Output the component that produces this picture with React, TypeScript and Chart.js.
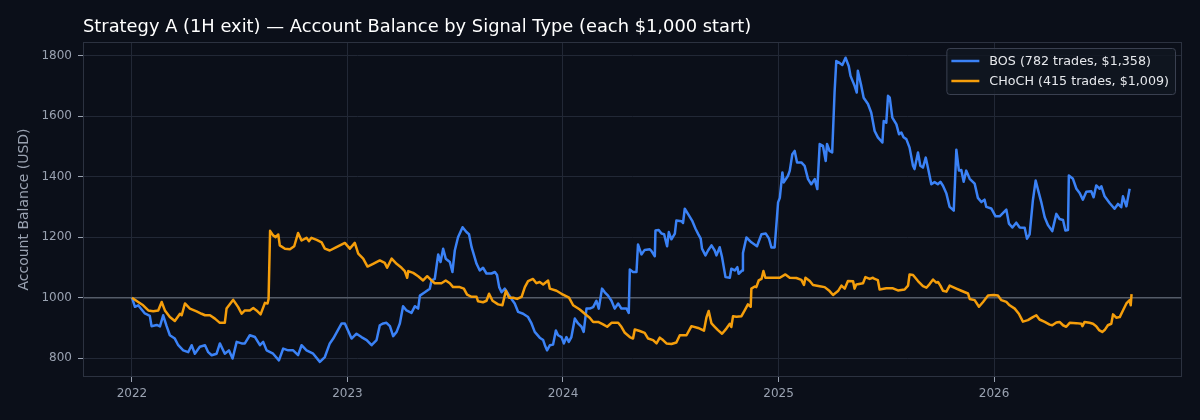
import { useEffect, useRef } from 'react'
import { Chart, registerables } from 'chart.js'

Chart.register(...registerables)

// Values (x in fractional years, y in USD)
const bosYears = [
  2022.0, 2022.014, 2022.029, 2022.06, 2022.083, 2022.091, 2022.115, 2022.13, 2022.145, 2022.161,
  2022.176, 2022.199, 2022.215, 2022.238, 2022.261, 2022.277, 2022.292, 2022.315, 2022.339, 2022.354,
  2022.37, 2022.393, 2022.408, 2022.431, 2022.45, 2022.467, 2022.486, 2022.509, 2022.524, 2022.547,
  2022.571, 2022.594, 2022.609, 2022.625, 2022.655, 2022.682, 2022.702, 2022.725, 2022.748, 2022.771,
  2022.787, 2022.81, 2022.841, 2022.872, 2022.895, 2022.918, 2022.934, 2022.973, 2022.988, 2023.019,
  2023.042, 2023.065, 2023.089, 2023.112, 2023.135, 2023.15, 2023.166, 2023.181, 2023.197, 2023.212,
  2023.228, 2023.243, 2023.258, 2023.274, 2023.297, 2023.313, 2023.328, 2023.336, 2023.359, 2023.382,
  2023.39, 2023.405, 2023.421, 2023.432, 2023.444, 2023.456, 2023.475, 2023.487, 2023.498, 2023.513,
  2023.534, 2023.552, 2023.564, 2023.576, 2023.599, 2023.614, 2023.629, 2023.645, 2023.668, 2023.684,
  2023.694, 2023.704, 2023.715, 2023.73, 2023.745, 2023.761, 2023.776, 2023.792, 2023.815, 2023.838,
  2023.854, 2023.869, 2023.892, 2023.908, 2023.916, 2023.926, 2023.939, 2023.954, 2023.967, 2023.977,
  2023.993, 2024.004, 2024.016, 2024.027, 2024.039, 2024.055, 2024.07, 2024.086, 2024.096, 2024.109,
  2024.124, 2024.14, 2024.155, 2024.166, 2024.181, 2024.194, 2024.209, 2024.225, 2024.24, 2024.256,
  2024.271, 2024.295, 2024.305, 2024.31, 2024.325, 2024.341, 2024.348, 2024.364, 2024.379, 2024.403,
  2024.41, 2024.426, 2024.429, 2024.444, 2024.457, 2024.469, 2024.483, 2024.491, 2024.503, 2024.519,
  2024.526, 2024.55, 2024.557, 2024.565, 2024.58, 2024.599, 2024.615, 2024.627, 2024.639, 2024.645,
  2024.661, 2024.673, 2024.689, 2024.704, 2024.712, 2024.727, 2024.738, 2024.754, 2024.774, 2024.781,
  2024.797, 2024.809, 2024.815, 2024.831, 2024.835, 2024.851, 2024.874, 2024.9, 2024.921, 2024.941,
  2024.956, 2024.967, 2024.982, 2024.998, 2025.006, 2025.018, 2025.024, 2025.044, 2025.052, 2025.064,
  2025.075, 2025.086, 2025.106, 2025.121, 2025.137, 2025.152, 2025.168, 2025.18, 2025.191, 2025.206,
  2025.219, 2025.225, 2025.237, 2025.249, 2025.26, 2025.268, 2025.283, 2025.296, 2025.311, 2025.326,
  2025.334, 2025.353, 2025.363, 2025.368, 2025.384, 2025.395, 2025.415, 2025.43, 2025.446, 2025.461,
  2025.482, 2025.488, 2025.5, 2025.508, 2025.516, 2025.528, 2025.547, 2025.559, 2025.57, 2025.58,
  2025.593, 2025.608, 2025.624, 2025.631, 2025.647, 2025.658, 2025.67, 2025.683, 2025.693, 2025.709,
  2025.724, 2025.739, 2025.751, 2025.763, 2025.779, 2025.794, 2025.813, 2025.825, 2025.837, 2025.848,
  2025.859, 2025.871, 2025.887, 2025.91, 2025.925, 2025.941, 2025.956, 2025.964, 2025.987, 2026.007,
  2026.026, 2026.057, 2026.069, 2026.085, 2026.103, 2026.119, 2026.142, 2026.153, 2026.165, 2026.18,
  2026.193, 2026.205, 2026.219, 2026.235, 2026.25, 2026.27, 2026.289, 2026.304, 2026.32, 2026.331,
  2026.343, 2026.347, 2026.366, 2026.382, 2026.397, 2026.412, 2026.428, 2026.451, 2026.462, 2026.474,
  2026.49, 2026.498, 2026.513, 2026.536, 2026.559, 2026.575, 2026.59, 2026.598, 2026.614, 2026.629,
]
const bosBalance = [
  1000, 970, 975, 948, 940, 906, 910, 905, 942, 906,
  876, 865, 843, 826, 820, 843, 815, 838, 843, 820,
  810, 815, 849, 815, 826, 799, 854, 849, 849, 876,
  870, 843, 854, 826, 815, 793, 832, 826, 826, 810,
  843, 826, 815, 788, 804, 849, 865, 915, 915, 865,
  881, 870, 860, 843, 860, 909, 915, 917, 906, 873,
  887, 915, 972, 958, 950, 972, 964, 1007, 1018, 1030,
  1057, 1062, 1143, 1118, 1162, 1129, 1118, 1085, 1156, 1200,
  1233, 1217, 1210, 1167, 1112, 1090, 1099, 1080, 1080, 1085,
  1075, 1035, 1018, 1030, 1013, 996, 981, 953, 947, 936,
  915, 887, 868, 860, 843, 826, 843, 845, 892, 876,
  870, 849, 870, 854, 870, 931, 915, 904, 887, 964,
  964, 969, 990, 964, 1030, 1018, 1007, 990, 964, 981,
  964, 964, 950, 1093, 1085, 1085, 1176, 1143, 1158, 1160,
  1155, 1137, 1222, 1224, 1212, 1210, 1170, 1217, 1193, 1212,
  1255, 1253, 1247, 1294, 1277, 1255, 1228, 1211, 1195, 1162,
  1140, 1156, 1173, 1156, 1140, 1167, 1134, 1068, 1066, 1096,
  1090, 1101, 1079, 1090, 1148, 1199, 1183, 1170, 1210, 1212,
  1195, 1166, 1166, 1315, 1330, 1414, 1381, 1403, 1419, 1474,
  1485, 1447, 1447, 1436, 1392, 1375, 1392, 1359, 1508, 1502,
  1452, 1508, 1485, 1480, 1678, 1782, 1776, 1769, 1793, 1765,
  1733, 1700, 1678, 1750, 1700, 1661, 1640, 1612, 1551, 1530,
  1513, 1584, 1578, 1667, 1661, 1595, 1573, 1540, 1546, 1530,
  1524, 1496, 1436, 1425, 1480, 1436, 1430, 1463, 1430, 1375,
  1382, 1375, 1383, 1370, 1344, 1300, 1288, 1489, 1420, 1422,
  1383, 1420, 1393, 1377, 1330, 1316, 1324, 1300, 1295, 1269,
  1269, 1291, 1245, 1232, 1248, 1232, 1231, 1195, 1209, 1321,
  1387, 1354, 1316, 1266, 1240, 1220, 1277, 1260, 1257, 1222,
  1224, 1404, 1393, 1360, 1346, 1324, 1350, 1352, 1332, 1371,
  1360, 1368, 1335, 1313, 1294, 1310, 1299, 1335, 1302, 1360,
]

const chochYears = [
  2022.0, 2022.029, 2022.052, 2022.076, 2022.099, 2022.122, 2022.138, 2022.153, 2022.176, 2022.199,
  2022.223, 2022.231, 2022.246, 2022.269, 2022.3, 2022.323, 2022.339, 2022.362, 2022.385, 2022.408,
  2022.431, 2022.439, 2022.47, 2022.493, 2022.509, 2022.524, 2022.547, 2022.563, 2022.578, 2022.597,
  2022.617, 2022.629, 2022.634, 2022.641, 2022.655, 2022.667, 2022.679, 2022.686, 2022.71, 2022.733,
  2022.753, 2022.771, 2022.787, 2022.81, 2022.821, 2022.833, 2022.857, 2022.88, 2022.895, 2022.918,
  2022.949, 2022.988, 2023.011, 2023.034, 2023.05, 2023.073, 2023.093, 2023.119, 2023.15, 2023.173,
  2023.184, 2023.205, 2023.228, 2023.251, 2023.266, 2023.277, 2023.282, 2023.305, 2023.328, 2023.351,
  2023.37, 2023.39, 2023.405, 2023.436, 2023.456, 2023.475, 2023.49, 2023.521, 2023.54, 2023.555,
  2023.576, 2023.599, 2023.606, 2023.629, 2023.645, 2023.657, 2023.673, 2023.699, 2023.719, 2023.735,
  2023.75, 2023.769, 2023.787, 2023.808, 2023.823, 2023.838, 2023.861, 2023.877, 2023.892, 2023.908,
  2023.931, 2023.939, 2023.97, 2023.993, 2024.028, 2024.047, 2024.078, 2024.101, 2024.124, 2024.14,
  2024.163, 2024.186, 2024.205, 2024.225, 2024.256, 2024.271, 2024.287, 2024.31, 2024.325, 2024.333,
  2024.356, 2024.379, 2024.395, 2024.418, 2024.434, 2024.449, 2024.464, 2024.48, 2024.503, 2024.526,
  2024.542, 2024.573, 2024.596, 2024.627, 2024.654, 2024.666, 2024.676, 2024.689, 2024.704, 2024.719,
  2024.738, 2024.758, 2024.774, 2024.781, 2024.789, 2024.805, 2024.828, 2024.843, 2024.858, 2024.871,
  2024.874, 2024.89, 2024.897, 2024.908, 2024.921, 2024.93, 2024.939, 2024.967, 2025.006, 2025.032,
  2025.052, 2025.083, 2025.106, 2025.118, 2025.125, 2025.145, 2025.16, 2025.191, 2025.214, 2025.237,
  2025.253, 2025.276, 2025.292, 2025.307, 2025.322, 2025.346, 2025.353, 2025.361, 2025.392, 2025.403,
  2025.423, 2025.438, 2025.446, 2025.461, 2025.469, 2025.5, 2025.531, 2025.554, 2025.585, 2025.601,
  2025.608, 2025.624, 2025.647, 2025.67, 2025.686, 2025.701, 2025.717, 2025.732, 2025.74, 2025.751,
  2025.763, 2025.779, 2025.794, 2025.825, 2025.848, 2025.879, 2025.887, 2025.91, 2025.93, 2025.949,
  2025.972, 2025.998, 2026.018, 2026.034, 2026.057, 2026.072, 2026.096, 2026.115, 2026.134, 2026.157,
  2026.18, 2026.196, 2026.211, 2026.235, 2026.258, 2026.27, 2026.289, 2026.304, 2026.32, 2026.335,
  2026.351, 2026.382, 2026.405, 2026.41, 2026.42, 2026.443, 2026.459, 2026.474, 2026.487, 2026.502,
  2026.513, 2026.528, 2026.544, 2026.552, 2026.567, 2026.583, 2026.598, 2026.614, 2026.629, 2026.634,
  2026.638,
]
const chochBalance = [
  1000, 986, 975, 958, 955, 958, 986, 958, 936, 923,
  947, 942, 981, 964, 955, 947, 942, 942, 931, 917,
  917, 964, 993, 969, 947, 958, 958, 966, 958, 945,
  983, 981, 996, 1221, 1206, 1200, 1209, 1173, 1162, 1160,
  1170, 1214, 1189, 1198, 1187, 1198, 1191, 1183, 1162, 1156,
  1167, 1181, 1162, 1181, 1146, 1129, 1103, 1112, 1123, 1115,
  1099, 1129, 1112, 1099, 1088, 1066, 1088, 1082, 1071, 1057,
  1071, 1057, 1048, 1048, 1057, 1048, 1035, 1035, 1030, 1010,
  1003, 1003, 988, 985, 990, 1013, 990, 978, 975, 1023,
  1000, 1000, 996, 1003, 1035, 1055, 1062, 1048, 1052, 1044,
  1057, 1030, 1023, 1013, 1000, 975, 961, 947, 934, 920,
  920, 912, 904, 917, 917, 904, 884, 870, 865, 895,
  890, 884, 865, 860, 849, 868, 860, 849, 847, 852,
  876, 876, 906, 900, 891, 936, 956, 915, 904, 893,
  881, 898, 914, 903, 939, 937, 939, 958, 978, 970,
  1030, 1037, 1035, 1057, 1062, 1088, 1066, 1066, 1066, 1077,
  1066, 1065, 1059, 1042, 1066, 1055, 1042, 1038, 1035, 1022,
  1009, 1022, 1040, 1030, 1055, 1054, 1030, 1044, 1048, 1068,
  1062, 1066, 1062, 1058, 1027, 1031, 1031, 1024, 1027, 1040,
  1077, 1075, 1055, 1038, 1033, 1045, 1060, 1050, 1052, 1040,
  1023, 1020, 1040, 1030, 1023, 1014, 996, 992, 970, 986,
  1007, 1009, 1007, 992, 986, 975, 964, 947, 921, 926,
  936, 942, 928, 920, 911, 909, 918, 920, 909, 904,
  917, 916, 914, 906, 920, 917, 914, 906, 893, 887,
  893, 909, 914, 945, 934, 936, 958, 981, 992, 975,
  1012,
]

const seriesLabels = ['BOS (782 trades, $1,358)', 'CHoCH (415 trades, $1,009)']
const yearTicks = [2022, 2023, 2024, 2025, 2026]
const balanceTicks = [800, 1000, 1200, 1400, 1600, 1800]
const startBalance = 1000
const chartTitle = 'Strategy A (1H exit) — Account Balance by Signal Type (each $1,000 start)'

const PAGE_BG = '#0b0f19'
const GRID = '#222836'
const FRAME = '#2c3240'
const TICK_TEXT = '#9aa2b1'
const FONT = "'DejaVu Sans', 'Noto Sans', sans-serif"
const BLUE = '#3b82f6'
const ORANGE = '#f59e0b'

const toPoints = (xs: number[], ys: number[]) => xs.map((x, i) => ({ x, y: ys[i] }))

const decorPlugin = {
  id: 'decor',
  beforeDraw(chart: any) {
    const { ctx, width, height } = chart
    ctx.save()
    ctx.fillStyle = PAGE_BG
    ctx.fillRect(0, 0, width, height)
    ctx.restore()
  },
  beforeDatasetsDraw(chart: any) {
    const { ctx, chartArea } = chart
    const y = chart.scales.y.getPixelForValue(startBalance)
    ctx.save()
    ctx.strokeStyle = '#555c69'
    ctx.lineWidth = 1.4
    ctx.beginPath()
    ctx.moveTo(chartArea.left, y)
    ctx.lineTo(chartArea.right, y)
    ctx.stroke()
    ctx.restore()
  },
  afterDraw(chart: any) {
    const { ctx, chartArea } = chart
    ctx.save()
    // frame
    ctx.strokeStyle = FRAME
    ctx.lineWidth = 1
    ctx.strokeRect(chartArea.left + 0.5, chartArea.top + 0.5, chartArea.right - chartArea.left - 1, chartArea.bottom - chartArea.top - 1)

    // title
    ctx.fillStyle = '#ffffff'
    ctx.font = `17.85px ${FONT}`
    ctx.textAlign = 'left'
    ctx.textBaseline = 'alphabetic'
    ctx.fillText(chartTitle, chartArea.left, 32)

    // legend
    ctx.font = `12.7px ${FONT}`
    const textW = Math.max(...chart.data.datasets.map((d: any) => ctx.measureText(d.label).width))
    const boxW = 43 + textW + 6
    const boxH = 46
    const boxX = chartArea.right - 7 - boxW
    const boxY = chartArea.top + 6
    ctx.fillStyle = 'rgba(17, 22, 33, 0.85)'
    ctx.strokeStyle = '#3a4050'
    ctx.lineWidth = 1
    ctx.beginPath()
    ctx.roundRect(boxX + 0.5, boxY + 0.5, boxW, boxH, 3)
    ctx.fill()
    ctx.stroke()
    chart.data.datasets.forEach((d: any, i: number) => {
      const rowY = boxY + 13 + i * 20
      ctx.strokeStyle = d.borderColor
      ctx.lineWidth = 2.5
      ctx.beginPath()
      ctx.moveTo(boxX + 5, rowY)
      ctx.lineTo(boxX + 33, rowY)
      ctx.stroke()
      ctx.fillStyle = '#e6e8ec'
      ctx.textBaseline = 'middle'
      ctx.fillText(d.label, boxX + 43, rowY + 1)
    })
    ctx.restore()
  },
}

export default function App() {
  const canvasRef = useRef<HTMLCanvasElement | null>(null)
  const chartRef = useRef<Chart | null>(null)

  useEffect(() => {
    document.body.style.margin = '0'
    document.body.style.background = PAGE_BG
    const ctx = canvasRef.current?.getContext('2d')
    if (!ctx) return

    chartRef.current = new Chart(ctx, {
      type: 'line',
      data: {
        datasets: [
          {
            label: seriesLabels[0],
            data: toPoints(bosYears, bosBalance),
            borderColor: BLUE,
            borderWidth: 2.5,
            pointRadius: 0,
            borderJoinStyle: 'round',
            order: 2,
          },
          {
            label: seriesLabels[1],
            data: toPoints(chochYears, chochBalance),
            borderColor: ORANGE,
            borderWidth: 2.5,
            pointRadius: 0,
            borderJoinStyle: 'round',
            order: 1,
          },
        ],
      },
      plugins: [decorPlugin],
      options: {
        animation: false,
        responsive: true,
        maintainAspectRatio: false,
        layout: { padding: { top: 42, right: 18, left: 0, bottom: 0 } },
        plugins: {
          legend: { display: false },
          tooltip: { enabled: false },
        },
        scales: {
          x: {
            type: 'linear',
            min: 2021.773,
            max: 2026.872,
            afterBuildTicks: (s: any) => {
              s.ticks = yearTicks.map((v) => ({ value: v }))
            },
            afterFit: (s: any) => {
              s.height = 43
            },
            grid: { color: GRID, tickColor: TICK_TEXT, tickLength: 5 },
            border: { display: false },
            ticks: {
              color: TICK_TEXT,
              font: { family: FONT, size: 12 },
              padding: 5,
              callback: (v: any) => String(v),
            },
          },
          y: {
            type: 'linear',
            min: 738,
            max: 1845,
            afterBuildTicks: (s: any) => {
              s.ticks = balanceTicks.map((v) => ({ value: v }))
            },
            afterFit: (s: any) => {
              s.width = 83
            },
            grid: { color: GRID, tickColor: TICK_TEXT, tickLength: 5 },
            border: { display: false },
            ticks: {
              color: TICK_TEXT,
              font: { family: FONT, size: 12 },
              padding: 6,
              callback: (v: any) => String(v),
            },
            title: {
              display: true,
              text: 'Account Balance (USD)',
              color: TICK_TEXT,
              font: { family: FONT, size: 14 },
              padding: { top: 16, bottom: 0 },
            },
          },
        },
      },
    })

    return () => {
      chartRef.current?.destroy()
      chartRef.current = null
    }
  }, [])

  return (
    <div style={{ position: 'relative', width: 1200, height: 420, background: PAGE_BG }}>
      <canvas ref={canvasRef} />
    </div>
  )
}
